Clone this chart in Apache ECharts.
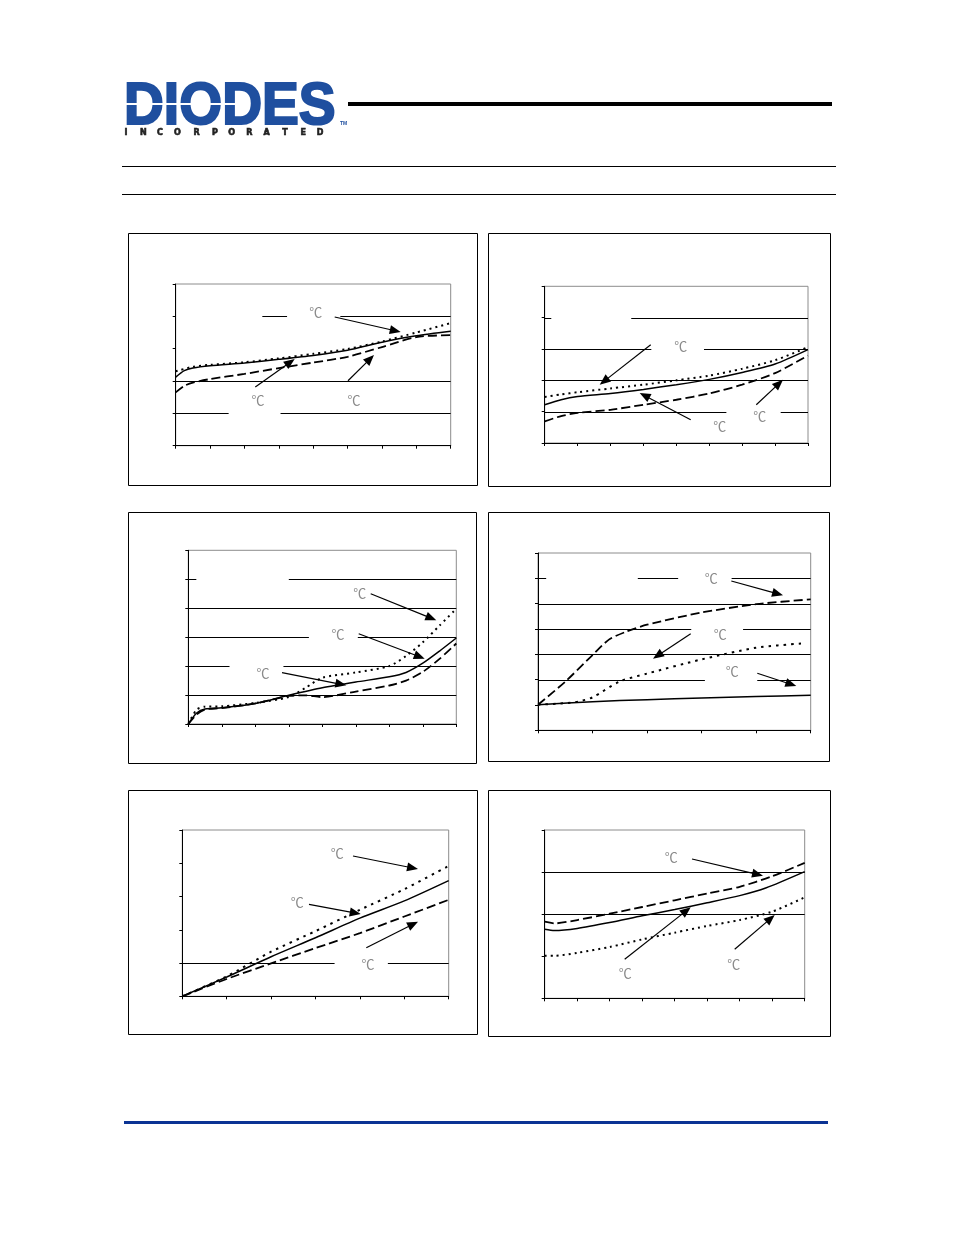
<!DOCTYPE html>
<html><head><meta charset="utf-8">
<script src="https://cdn.jsdelivr.net/npm/echarts@6/dist/echarts.min.js"></script>
<style>html,body{margin:0;padding:0;background:#fff}#c{width:954px;height:1235px}</style>
</head><body><div id="c"></div>
<script>
// ---------- data (axis units: x = tick intervals, y = tick intervals) ----------
const c1Solid  = [[0,2.12],[0.25,2.32],[0.5,2.40],[1,2.47],[2,2.56],[3,2.67],[4,2.79],[5,2.95],[6,3.20],[7,3.40],[8,3.54]];
const c1Dotted = [[0,2.30],[0.5,2.44],[1,2.50],[2,2.58],[3,2.70],[4,2.84],[5,2.99],[6,3.22],[7,3.50],[8,3.79]];
const c1Dashed = [[0,1.65],[0.25,1.85],[0.5,1.95],[1,2.06],[2,2.22],[3,2.40],[4,2.57],[5,2.75],[6,3.05],[7,3.36],[8,3.42]];

const c2Solid  = [[0,1.22],[0.5,1.38],[1,1.48],[2,1.58],[3,1.71],[4,1.86],[5,2.03],[6,2.25],[7,2.52],[8,2.98]];
const c2Dotted = [[0,1.47],[0.5,1.55],[1,1.62],[2,1.74],[3,1.86],[4,2.00],[5,2.15],[6,2.37],[7,2.64],[8,3.06]];
const c2Dashed = [[0,0.69],[0.5,0.86],[1,0.96],[2,1.06],[3,1.22],[4,1.38],[5,1.58],[6,1.86],[7,2.23],[8,2.79]];

const c3Solid  = [[0,0],[0.25,0.38],[0.5,0.52],[1,0.56],[2,0.71],[3,0.99],[4,1.25],[5,1.45],[6,1.63],[6.5,1.78],[7,2.10],[7.5,2.52],[8,2.97]];
const c3Dotted = [[0,0],[0.25,0.50],[0.5,0.60],[1,0.61],[2,0.73],[3,0.93],[3.5,1.25],[4,1.60],[5,1.78],[6,2.00],[6.5,2.35],[7,2.82],[7.5,3.40],[8,3.98]];
const c3Dashed = [[0,0],[0.25,0.33],[0.5,0.50],[1,0.55],[2,0.71],[3,0.97],[3.5,0.99],[4,0.93],[5,1.12],[6,1.33],[6.5,1.50],[7,1.80],[7.5,2.25],[8,2.78]];

const c4Solid  = [[0,1.01],[1,1.13],[2,1.21],[3,1.28],[4,1.33],[5,1.38]];
const c4Dotted = [[0,1.01],[0.5,1.07],[0.75,1.14],[1,1.30],[1.5,1.93],[2,2.24],[3,2.80],[4,3.26],[4.85,3.43]];
const c4Dashed = [[0,1.01],[0.5,1.92],[1,2.97],[1.3,3.58],[1.6,3.88],[2,4.17],[3,4.65],[4,4.98],[5,5.17]];

const c5Solid  = [[0,0],[1,0.58],[2,1.19],[3,1.76],[4,2.35],[5,2.87],[6,3.48]];
const c5Dotted = [[0,0],[1,0.60],[2,1.34],[3,1.96],[4,2.60],[5,3.22],[6,3.92]];
const c5Dashed = [[0,0],[1,0.52],[2,0.99],[3,1.45],[4,1.90],[5,2.40],[6,2.90]];

const c6Solid  = [[0,1.64],[0.3,1.61],[1,1.66],[2,1.80],[3,1.96],[4,2.11],[5,2.27],[6,2.44],[6.8,2.62],[8,3.01]];
const c6Dotted = [[0,1.01],[0.3,1.01],[1,1.08],[2,1.22],[3,1.40],[4,1.56],[5,1.72],[6,1.86],[7,2.06],[8,2.40]];
const c6Dashed = [[0,1.82],[0.3,1.78],[1,1.86],[2,2.01],[3,2.17],[4,2.33],[5,2.49],[6,2.65],[7,2.90],[8,3.22]];

const tempLabel = '℃';
const logoText = 'DIODES';
const logoSub = ['I','N','C','O','R','P','O','R','A','T','E','D'];

// ---------- layout ----------
const panels = [
 {box:[128,233,477,485], grid:[175.7,284,450.7,445.7], xMax:8, yMax:5, s:c1Solid, d:c1Dotted, k:c1Dashed, dot:[2,4],
  gaps:{4:[[0,2.52],[3.24,4.79]],3:[[0,8]],1:[[1.54,3.05]]},
  labels:[[315.7,312],[258,399.7],[354,399.7]],
  arrows:[[334.7,317,400.7,332],[255.3,387,294.7,359],[348,380.7,374,355]]},
 {box:[488,233,830,486], grid:[544.7,286.3,808,443], xMax:8, yMax:5, s:c2Solid, d:c2Dotted, k:c2Dashed, dot:[2,4],
  gaps:{4:[[0.2,2.63]],3:[[3.24,4.84]],1:[[5.52,7.17]]},
  labels:[[680.7,345.7],[719.7,426.3],[759.7,415.7]],
  arrows:[[650.7,344.7,599.7,384.7],[690.7,419.7,639.7,393],[756.3,404.7,783,379.7]]},
 {box:[128,512,476,763], grid:[188.3,550.3,456.3,724], xMax:8, yMax:6, s:c3Solid, d:c3Dotted, k:c3Dashed, dot:[2,4],
  gaps:{5:[[0.24,3.0]],3:[[3.6,5.06]],2:[[1.23,2.84]]},
  labels:[[359.7,593],[338,633.7],[263,672.7]],
  arrows:[[370.7,593.7,436.3,620.3],[358.7,633.7,424.7,658.7],[282,672.7,346.3,685.3]]},
 {box:[488,512,829,761], grid:[538,553,810.7,730.3], xMax:5, yMax:7, s:c4Solid, d:c4Dotted, k:c4Dashed, dot:[2.5,5],
  gaps:{6:[[0.15,1.83],[2.57,3.55]],4:[[2.81,3.76]],2:[[3.06,4.02]],1:[[0,5]]},
  labels:[[711.3,577.7],[720.3,633.7],[732.3,671.3]],
  arrows:[[731.3,581,783,595.3],[690.7,633.7,653,658.7],[757.3,673.3,796.3,686]]},
 {box:[128,790,477,1034], grid:[182.3,830,448.7,996.3], xMax:6, yMax:5, s:c5Solid, d:c5Dotted, k:c5Dashed, dot:[2.5,5],
  gaps:{4:[[0,6]],3:[[0,6]],2:[[0,6]],1:[[3.43,4.63]]},
  labels:[[337.3,853.3],[297.3,902.3],[368,964]],
  arrows:[[353,856,418,869],[309,904.3,360.7,914],[366.3,947.7,418,921.7]]},
 {box:[488,790,830,1036], grid:[544.7,830,804.7,998.3], xMax:8, yMax:4, s:c6Solid, d:c6Dotted, k:c6Dashed, dot:[2,4],
  gaps:{1:[[0,8]]},
  labels:[[671.3,856.7],[625.3,972.7],[733.7,964]],
  arrows:[[692,859,763,875.7],[624.7,959.3,690.7,907.3],[734.7,949.3,774.7,915]]}
];

const chart = echarts.init(document.getElementById('c'), null, {renderer:'canvas'});

const grids=[], xAxes=[], yAxes=[], series=[];
panels.forEach((p,i)=>{
  const [l,t,r,b]=p.grid;
  grids.push({left:l, top:t, width:r-l, height:b-t, show:true, borderColor:'#8c8c8c', borderWidth:1, backgroundColor:'transparent'});
  const ax = {gridIndex:i, type:'value', min:0, interval:1, z:5,
    axisLine:{show:true, onZero:false, lineStyle:{color:'#000', width:1}},
    axisTick:{show:true, inside:false, length:3, lineStyle:{color:'#000', width:1}},
    axisLabel:{show:false}, splitLine:{show:false}};
  xAxes.push(Object.assign({}, ax, {max:p.xMax}));
  yAxes.push(Object.assign({}, ax, {max:p.yMax}));
  const base = {type:'line', xAxisIndex:i, yAxisIndex:i, showSymbol:false, symbol:'none', smooth:0.25, z:3};
  series.push(Object.assign({}, base, {data:p.s, lineStyle:{color:'#000', width:1.5, type:'solid'}}));
  series.push(Object.assign({}, base, {data:p.d, lineStyle:{color:'#000', width:2, type:p.dot, cap:'butt'}}));
  series.push(Object.assign({}, base, {data:p.k, lineStyle:{color:'#000', width:1.8, type:[9,4], cap:'butt'}}));
});

chart.setOption({animation:false, backgroundColor:'#fff', grid:grids, xAxis:xAxes, yAxis:yAxes, series:series});

// ---------- decorations ----------
const g=[];
// header
g.push({type:'line', z:10, shape:{x1:348,y1:104,x2:832,y2:104}, style:{stroke:'#000', lineWidth:4}});
g.push({type:'line', z:10, shape:{x1:122,y1:166.5,x2:836,y2:166.5}, style:{stroke:'#000', lineWidth:1}});
g.push({type:'line', z:10, shape:{x1:122,y1:194.5,x2:836,y2:194.5}, style:{stroke:'#000', lineWidth:1}});
g.push({type:'line', z:10, shape:{x1:124,y1:1122.5,x2:828,y2:1122.5}, style:{stroke:'#0b3394', lineWidth:3}});
// logo
g.push({type:'text', z:10, x:124, y:107.5, scaleX:0.92, originX:0, style:{text:logoText, x:0, y:0, fill:'#1f4f9f', stroke:'#1f4f9f', lineWidth:2.2, font:'bold 60px "Liberation Sans"', textAlign:'left', textVerticalAlign:'middle'}});
g.push({type:'line', z:11, shape:{x1:125,y1:104,x2:236,y2:104}, style:{stroke:'#fff', lineWidth:2}});
g.push({type:'text', z:10, x:340, y:124, style:{text:'TM', fill:'#1f4f9f', font:'bold 5px "Liberation Sans"', textAlign:'left', textVerticalAlign:'middle'}});
const subX=[126,143.3,160,177.3,196.7,215,231.7,249.3,266.7,285,303.3,320];
logoSub.forEach((ch,j)=>{
  g.push({type:'text', z:10, x:subX[j], y:133, style:{text:ch, fill:'#222', stroke:'#222', lineWidth:0.6, font:'bold 8px "DejaVu Sans"', textAlign:'center', textVerticalAlign:'middle'}});
});

function arrow(x1,y1,x2,y2){
  const dx=x2-x1, dy=y2-y1, L=Math.hypot(dx,dy), ux=dx/L, uy=dy/L;
  const hl=11, hw=4.5;
  const bx=x2-ux*hl, by=y2-uy*hl;
  g.push({type:'line', z:12, shape:{x1:x1,y1:y1,x2:bx+ux*2,y2:by+uy*2}, style:{stroke:'#000', lineWidth:1.2}});
  g.push({type:'polygon', z:12, shape:{points:[[x2,y2],[bx-uy*hw,by+ux*hw],[bx+uy*hw,by-ux*hw]]}, style:{fill:'#000'}});
}

panels.forEach((p,i)=>{
  const [bl,bt,br,bb]=p.box;
  g.push({type:'rect', z:10, shape:{x:bl+0.5,y:bt+0.5,width:br-bl,height:bb-bt}, style:{fill:'none', stroke:'#000', lineWidth:1}});
  for(let yv=1; yv<p.yMax; yv++){
    const gaps=(p.gaps[yv]||[]).slice().sort((a,b)=>a[0]-b[0]);
    let segs=[], cur=0;
    gaps.forEach(([a,b])=>{ if(a>cur) segs.push([cur,a]); cur=Math.max(cur,b); });
    if(cur<p.xMax) segs.push([cur,p.xMax]);
    segs.forEach(([a,b])=>{
      const p1=chart.convertToPixel({gridIndex:i},[a,yv]);
      const p2=chart.convertToPixel({gridIndex:i},[b,yv]);
      const yy=Math.round(p1[1])+0.5;
      g.push({type:'line', z:1, shape:{x1:p1[0],y1:yy,x2:p2[0],y2:yy}, style:{stroke:'#000', lineWidth:1}});
    });
  }
  p.labels.forEach(([x,y])=>{
    g.push({type:'text', z:12, x:x, y:y, style:{text:tempLabel, fill:'#8a8a8a', font:'13px "Noto Sans CJK JP"', textAlign:'center', textVerticalAlign:'middle'}});
  });
  p.arrows.forEach(a=>arrow(a[0],a[1],a[2],a[3]));
});

chart.setOption({graphic:{elements:g}});
</script>
</body></html>
